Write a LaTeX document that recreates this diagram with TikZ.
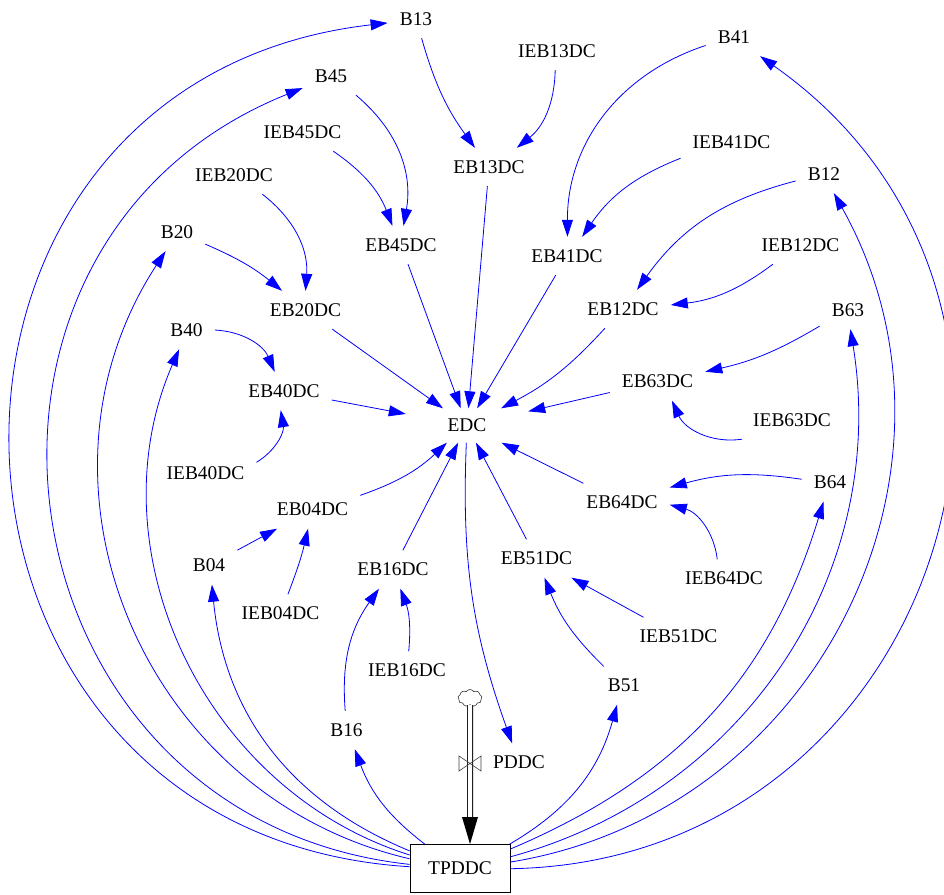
\documentclass[tikz,border=0pt]{standalone}
\usepackage{fontspec}
\setmainfont{Liberation Serif}
\usetikzlibrary{arrows.meta,shapes.symbols}

\begin{document}
\begin{tikzpicture}[x=1pt,y=1pt,
  var/.style={inner xsep=12pt, inner ysep=0pt, minimum height=38pt,
              font=\fontsize{19.4}{23}\selectfont},
  link/.style={draw={rgb,255:red,0;green,0;blue,255}, line width=0.8pt,
               -{Triangle[length=17pt,width=11pt]}},
  stock/.style={draw, line width=0.8pt, minimum width=100pt, minimum height=48pt,
                inner sep=0pt, font=\fontsize{19.4}{23}\selectfont},
]
\clip (0,0) rectangle (944,-894);

% auxiliary variables
\node[var] (b13)   at (416,-19)    {B13};
\node[var] (ieb13) at (557,-51)    {IEB13DC};
\node[var] (b41)   at (734,-37)    {B41};
\node[var] (b45)   at (331,-76)    {B45};
\node[var] (ieb45) at (302.5,-132) {IEB45DC};
\node[var] (ieb41) at (731.5,-142) {IEB41DC};
\node[var] (eb13)  at (489,-167)   {EB13DC};
\node[var] (b12)   at (824,-174)   {B12};
\node[var] (ieb20) at (234,-175)   {IEB20DC};
\node[var] (b20)   at (177,-232)   {B20};
\node[var] (eb45)  at (401,-245)   {EB45DC};
\node[var] (ieb12) at (800.5,-245) {IEB12DC};
\node[var] (eb41)  at (567,-256)   {EB41DC};
\node[var] (eb20)  at (305.5,-310) {EB20DC};
\node[var] (eb12)  at (623,-309)   {EB12DC};
\node[var] (b63)   at (848,-310)   {B63};
\node[var] (b40)   at (186.5,-330) {B40};
\node[var] (eb40)  at (284,-391)   {EB40DC};
\node[var] (eb63)  at (657.5,-381.5) {EB63DC};
\node[var] (ieb63) at (792,-420)   {IEB63DC};
\node[var, minimum width=122pt, minimum height=34pt] (edc) at (467,-425.5) {EDC};
\node[var] (ieb40) at (205.5,-473.5) {IEB40DC};
\node[var] (b64)   at (830,-482.5) {B64};
\node[var] (eb64)  at (622,-502.5) {EB64DC};
\node[var] (eb04)  at (312.5,-509.5) {EB04DC};
\node[var] (eb51)  at (536.5,-558.5) {EB51DC};
\node[var] (b04)   at (209,-565.5) {B04};
\node[var] (eb16)  at (393,-569.5) {EB16DC};
\node[var] (ieb64) at (724,-578.5) {IEB64DC};
\node[var] (ieb04) at (280.5,-613.5) {IEB04DC};
\node[var] (ieb51) at (678.5,-636.5) {IEB51DC};
\node[var] (ieb16) at (407,-670.5) {IEB16DC};
\node[var] (b51)   at (624,-685.5) {B51};
\node[var] (b16)   at (346.5,-730) {B16};
\node[var] (pddc)  at (519,-762.5) {PDDC};

% stock
\node[stock] (tp) at (460,-868.5) {TPDDC};

% inflow: cloud source, pipe, valve, arrowhead
\node[cloud, draw=black!80, line width=0.6pt, cloud puffs=9, cloud puff arc=120,
      aspect=1.4, minimum width=24pt, minimum height=17pt, inner sep=0pt]
      (src) at (470,-698) {};
\coordinate (headbase) at (470,-817);
\draw[line width=0.9pt, double distance=4.2pt] (src.south) -- (headbase);
\fill (headbase) +(-8,0) -- +(8,0) -- (src.south |- tp.north) -- cycle;
\coordinate (vlv) at (470,-763.5);
\draw[line width=0.6pt, draw=black!75] (vlv) -- ++(-11,7.5) -- ++(0,-15) -- cycle;
\draw[line width=0.6pt, draw=black!75] (vlv) -- ++(11,7.5) -- ++(0,-15) -- cycle;

% links into the intermediate variables
\draw[link] (b13) to[bend right=10] (eb13);
\draw[link] (ieb13) to[bend left=25] (eb13);
\draw[link] (b45) to[bend left=30] (eb45);
\draw[link] (ieb45) to[bend left=17] (eb45);
\draw[link] (ieb20) to[bend left=28] (eb20);
\draw[link] (b20) to[bend left=8] (eb20);
\draw[link] (b40) to[bend left=32] (eb40);
\draw[link] (ieb40) to[bend right=34] (eb40);
\draw[link] (b41) to[bend right=36] (eb41);
\draw[link] (ieb41) to[bend right=17] (eb41);
\draw[link] (b12) to[bend right=20] (eb12);
\draw[link] (ieb12) to[bend left=15] (eb12);
\draw[link] (b63) to[bend left=9] (eb63);
\draw[link] (ieb63) to[bend left=37] (eb63);
\draw[link] (b64) to[bend right=12] (eb64);
\draw[link] (ieb64) to[bend right=34] (eb64);
\draw[link] (ieb51) -- (eb51);
\draw[link] (b51) to[bend left=12] (eb51);
\draw[link] (b04) -- (eb04);
\draw[link] (ieb04) to[bend right=4] (eb04);
\draw[link] (ieb16) to[bend right=13] (eb16);
\draw[link] (b16) to[bend left=20] (eb16);

% links into EDC
\draw[link] (eb13) -- (edc);
\draw[link] (eb45) -- (edc);
\draw[link] (eb20) -- (edc);
\draw[link] (eb40) -- (edc);
\draw[link] (eb41) -- (edc);
\draw[link] (eb12) to[bend left=10] (edc);
\draw[link] (eb63) -- (edc);
\draw[link] (eb64) -- (edc);
\draw[link] (eb51) -- (edc);
\draw[link] (eb04) to[bend right=12] (edc);
\draw[link] (eb16) -- (edc);
\draw[link] (edc) to[bend right=11] (pddc);

% links out of the stock
\draw[link] (tp) to[bend left=16] (b16);
\draw[link] (tp) to[bend left=31] (b04);
\draw[link] (tp) to[bend left=48] (b40);
\draw[link] (tp) to[bend left=55, looseness=1.08] (b20);
\draw[link] (tp) to[bend left=76, looseness=1.37] (b45);
\draw[link] (tp) to[bend left=85, looseness=1.57] (b13);
\draw[link] (tp) to[bend right=22] (b51);
\draw[link] (tp) to[bend right=25] (b64);
\draw[link] (tp) to[bend right=42] (b63);
\draw[link] (tp) to[bend right=55, looseness=1.08] (b12);
\draw[link] (tp) to[bend right=72, looseness=1.3] (b41);
\end{tikzpicture}
\end{document}
